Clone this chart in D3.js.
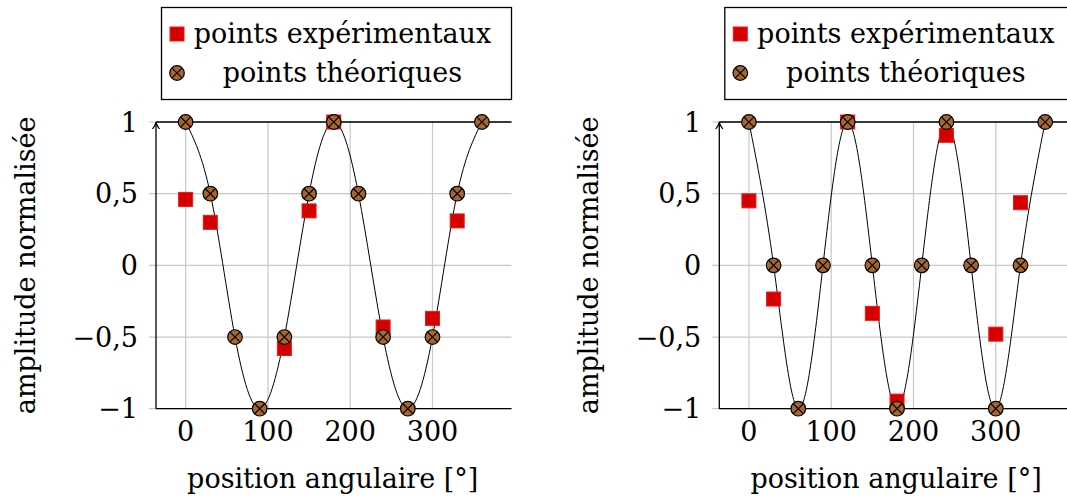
<!DOCTYPE html>
<html>
<head>
<meta charset="utf-8">
<script src="https://cdn.jsdelivr.net/npm/d3@7"></script>
<style>
  body { margin: 0; background: #fff; }
  svg { display: block; }
  text { font-family: "DejaVu Serif", serif; fill: #000; }
</style>
</head>
<body>
<div id="chart"></div>
<script>
// angles where the theoretical points are computed
let angles = [0, 30, 60, 90, 120, 150, 180, 210, 240, 270, 300, 330, 360];
let theoLeft = [1, 0.5, -0.5, -1, -0.5, 0.5, 1, 0.5, -0.5, -1, -0.5, 0.5, 1];
let theoRight = [1, 0, -1, 0, 1, 0, -1, 0, 1, 0, -1, 0, 1];

let expAngles = [0, 30, 120, 150, 180, 240, 300, 330];
let expLeft = [0.46, 0.30, -0.58, 0.38, 1.0, -0.43, -0.37, 0.31];
let expRight = [0.45, -0.235, 1.0, -0.335, -0.947, 0.907, -0.48, 0.437];

let xTicks = [0, 100, 200, 300];
let yTicks = [-1, -0.5, 0, 0.5, 1];
let yTickLabels = ['−1', '−0,5', '0', '0,5', '1'];
let legendLabels = ['points expérimentaux', 'points théoriques'];
let xLabel = 'position angulaire [°]';
let yLabel = 'amplitude normalisée';

let svgWidth = 1067;
let svgHeight = 500;
let fontSize = 27;
let brown = '#a5662f';
let redFill = '#d40000';
let redStroke = '#f01818';

let svg = d3.select('#chart').append('svg')
    .attr('width', svgWidth)
    .attr('height', svgHeight);

let panels = [
    { left: 156, theo: theoLeft, exp: expLeft },
    { left: 719.3, theo: theoRight, exp: expRight }
];

panels.forEach(function (p) {
    drawPanel(p);
});

function drawSquare(g, x, y) {
    g.append('rect')
        .attr('x', x - 7).attr('y', y - 7)
        .attr('width', 14).attr('height', 14)
        .attr('fill', redFill)
        .attr('stroke', redStroke)
        .attr('stroke-width', 1);
}

function drawOtimes(g, x, y) {
    let r = 7.3;
    let d = r * Math.SQRT1_2;
    g.append('circle')
        .attr('cx', x).attr('cy', y).attr('r', r)
        .attr('fill', brown)
        .attr('stroke', '#000')
        .attr('stroke-width', 1.2);
    g.append('path')
        .attr('d', 'M' + (x - d) + ',' + (y - d) + 'L' + (x + d) + ',' + (y + d) +
            'M' + (x - d) + ',' + (y + d) + 'L' + (x + d) + ',' + (y - d))
        .attr('stroke', '#000')
        .attr('stroke-width', 1.2);
}

function drawPanel(p) {
    let g = svg.append('g');
    let x = d3.scaleLinear().domain([-36, 396]).range([p.left, p.left + 355.5]);
    let y = d3.scaleLinear().domain([-1, 1]).range([408.7, 122]);
    let x0 = x.range()[0];
    let x1 = x.range()[1];

    // grid
    g.selectAll('.vgrid').data(xTicks).enter().append('line')
        .attr('x1', d => x(d)).attr('x2', d => x(d))
        .attr('y1', y(-1)).attr('y2', y(1))
        .attr('stroke', '#c8c8c8').attr('stroke-width', 1.2);
    g.selectAll('.hgrid').data(yTicks).enter().append('line')
        .attr('x1', x0 - 7).attr('x2', x1)
        .attr('y1', d => y(d)).attr('y2', d => y(d))
        .attr('stroke', '#c8c8c8').attr('stroke-width', 1.2);

    // frame lines (bottom, top) and left axis with arrow
    g.append('line')
        .attr('x1', x0).attr('x2', x1).attr('y1', y(-1)).attr('y2', y(-1))
        .attr('stroke', '#000').attr('stroke-width', 1.3);
    g.append('line')
        .attr('x1', x0).attr('x2', x1).attr('y1', y(1)).attr('y2', y(1))
        .attr('stroke', '#000').attr('stroke-width', 1.3);
    g.append('line')
        .attr('x1', x0).attr('x2', x0).attr('y1', y(-1)).attr('y2', y(1))
        .attr('stroke', '#000').attr('stroke-width', 1.3);
    g.append('path')
        .attr('d', 'M' + (x0 - 3.5) + ',' + (y(1) + 7) + 'Q' + x0 + ',' + (y(1) + 2) + ' ' + x0 + ',' + y(1) +
            'Q' + x0 + ',' + (y(1) + 2) + ' ' + (x0 + 3.5) + ',' + (y(1) + 7))
        .attr('fill', 'none')
        .attr('stroke', '#000').attr('stroke-width', 1.3);

    // tick labels
    g.selectAll('.xlab').data(xTicks).enter().append('text')
        .attr('x', d => x(d)).attr('y', 441)
        .attr('text-anchor', 'middle')
        .attr('font-size', fontSize)
        .text(d => d);
    g.selectAll('.ylab').data(yTicks).enter().append('text')
        .attr('x', x0 - 18).attr('y', d => y(d))
        .attr('dy', '0.36em')
        .attr('text-anchor', 'end')
        .attr('font-size', fontSize)
        .text((d, i) => yTickLabels[i]);

    // axis titles
    g.append('text')
        .attr('x', (x0 + 511.5 - 156) / 2 + x0 / 2 - 1)
        .attr('y', 488)
        .attr('text-anchor', 'middle')
        .attr('font-size', fontSize)
        .text(xLabel);
    g.append('text')
        .attr('transform', 'translate(' + (x0 - 121) + ',' + y(0) + ') rotate(-90)')
        .attr('text-anchor', 'middle')
        .attr('font-size', fontSize)
        .text(yLabel);

    // theoretical curve
    let lineFunction = d3.line()
        .x((d, i) => x(angles[i]))
        .y(d => y(d))
        .curve(d3.curveNatural);
    g.append('path')
        .attr('d', lineFunction(p.theo))
        .attr('fill', 'none')
        .attr('stroke', '#000')
        .attr('stroke-width', 1);

    // experimental points
    p.exp.forEach(function (v, i) {
        drawSquare(g, x(expAngles[i]), y(v));
    });
    // theoretical points
    p.theo.forEach(function (v, i) {
        drawOtimes(g, x(angles[i]), y(v));
    });

    // legend
    let lx = x0 + 5.5;
    let lg = svg.append('g');
    lg.append('rect')
        .attr('x', lx).attr('y', 7.5)
        .attr('width', x1 - lx).attr('height', 92)
        .attr('fill', '#fff')
        .attr('stroke', '#000').attr('stroke-width', 1.3);
    drawSquare(lg, lx + 15.5, 34);
    drawOtimes(lg, lx + 15.5, 73);
    lg.selectAll('.leg').data(legendLabels).enter().append('text')
        .attr('x', lx + 181)
        .attr('y', (d, i) => i === 0 ? 43 : 82)
        .attr('text-anchor', 'middle')
        .attr('font-size', fontSize)
        .text(d => d);
}
</script>
</body>
</html>
